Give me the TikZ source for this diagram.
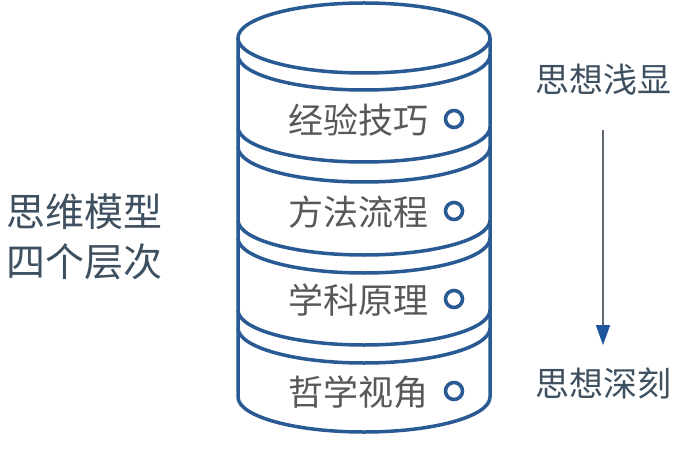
\documentclass[tikz,border=0pt]{standalone}
\usepackage{fontspec}
\usepackage{xcolor}
\usetikzlibrary{arrows.meta}
\newfontfamily\cjk{Noto Sans CJK SC}
\definecolor{cylblue}{RGB}{42,90,148}
\definecolor{labelgray}{RGB}{88,88,88}
\definecolor{sidegray}{RGB}{62,80,96}
\definecolor{arrowgray}{RGB}{95,105,115}
\definecolor{headblue}{RGB}{32,86,160}

\begin{document}
\begin{tikzpicture}[x=1pt,y=-1pt,
  layer/.style={font=\cjk\fontsize{35}{35}\selectfont,text=labelgray,inner sep=0pt},
  side/.style={font=\cjk\fontsize{34}{34}\selectfont,text=sidegray,inner sep=0pt},
  title/.style={font=\cjk\fontsize{39}{39}\selectfont,text=sidegray,inner sep=0pt},
  dot/.style={draw=cylblue,line width=3.6pt}]
\useasboundingbox (0,0) rectangle (700,470);

% cylinder
\draw[cylblue,line width=3.5pt] (364,38) ellipse [x radius=126pt,y radius=35pt];
\draw[cylblue,line width=3.5pt] (238,38) -- (238,397)
  arc [start angle=180,end angle=360,x radius=126pt,y radius=35pt] -- (490,38);
\foreach \c in {55,127,147,220,238,310,328}
  \draw[cylblue,line width=3.5pt] (238,\c) arc [start angle=180,end angle=360,x radius=126pt,y radius=35pt];

% layers
\node[layer] (jingyan) at (358,120) {经验技巧};
\node[layer] (fangfa) at (358,212) {方法流程};
\node[layer] (yuanli) at (358,300) {学科原理};
\node[layer] (zhexue) at (358,392) {哲学视角};

\draw[dot] (454,119) circle [radius=8.5pt];
\draw[dot] (454,211) circle [radius=8.5pt];
\draw[dot] (454,299) circle [radius=8.5pt];
\draw[dot] (454,391) circle [radius=8.5pt];

% left title
\node[title] (model) at (84,212) {思维模型};
\node[title] (levels) at (84,262) {四个层次};

% right scale
\node[side] (shallow) at (603,80) {思想浅显};
\node[side] (deep) at (603,383) {思想深刻};
\draw[arrowgray,line width=1.5pt,shorten <=34pt,shorten >=22pt,
  -{Triangle[length=20pt,width=14pt,color=headblue,fill=headblue]}] (shallow) -- (deep);
\end{tikzpicture}
\end{document}
